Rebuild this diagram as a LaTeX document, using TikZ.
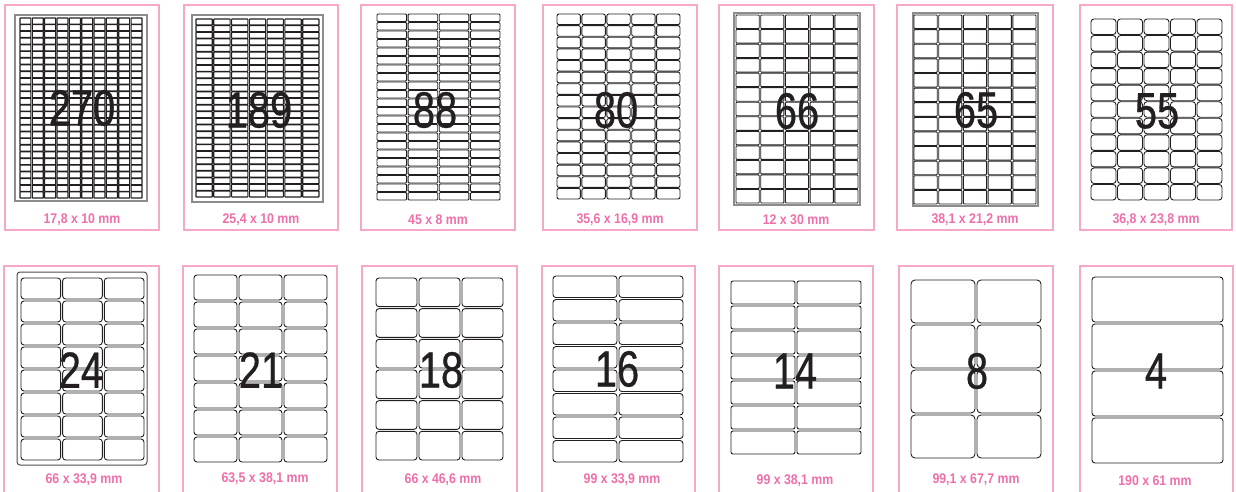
\documentclass[tikz,border=0pt]{standalone}
\usepackage{fontspec}
\newfontfamily\numfont[FakeStretch=0.78,FakeBold=0.6]{Liberation Sans}
\newfontfamily\lblfont[FakeStretch=0.88]{Liberation Sans}
\definecolor{pinkline}{HTML}{F5A8C8}
\definecolor{pinktext}{HTML}{EE6FA9}
\definecolor{sheetgray}{HTML}{8C8C8C}
\definecolor{ink}{HTML}{231F20}
\tikzset{
 card/.style={draw=pinkline, line width=1.2pt},
 sheet/.style={draw=sheetgray, line width=1.4pt},
 lbl/.style={draw=ink, line width=0.9pt},
 bignum/.style={font=\numfont\fontsize{51}{51}\selectfont, text=ink, inner sep=0pt},
 sizetxt/.style={font=\lblfont\bfseries\fontsize{14}{14}\selectfont, text=pinktext, inner sep=0pt},
}
\newcommand\lgrid[9]{%
 \pgfmathsetmacro\lgw{(#3-#1+#7)/#5}%
 \pgfmathsetmacro\lgh{(#4-#2+#8)/#6}%
 \foreach \i in {1,...,#5}{\foreach \j in {1,...,#6}{%
  \draw[lbl, rounded corners=#9pt] ({#1+(\i-1)*\lgw},{#2+(\j-1)*\lgh}) rectangle ++({\lgw-#7},{\lgh-#8});}}}
\begin{document}
\begin{tikzpicture}[x=1pt,y=-1pt]
\useasboundingbox (0,0) rectangle (1236,491);
% ---------- row 1 ----------
\draw[card] (5,5) rectangle (159,230);
\draw[sheet] (15,15) rectangle (147,201);
\begin{scope}[lbl/.append style={line width=1.1pt}]
\lgrid{20}{18}{142}{198}{10}{27}{1.4}{0.6}{0.3}
\end{scope}
\node[bignum] (n270) at (82,108) {270};
\node[sizetxt] (s270) at (82,220) {17,8 x 10 mm};

\draw[card] (184,5) rectangle (338,230);
\draw[sheet] (192,15) rectangle (323,202);
\begin{scope}[lbl/.append style={line width=1.1pt}]
\lgrid{196}{19}{319}{197}{7}{27}{1.5}{0.6}{0.5}
\end{scope}
\node[bignum] (n189) at (259,110) {189};
\node[sizetxt] (s189) at (261,220) {25,4 x 10 mm};

\draw[card] (361,5) rectangle (515,230);
\lgrid{377}{14}{500}{200}{4}{22}{1.5}{1}{1}
\node[bignum] (n88) at (435,110) {88};
\node[sizetxt] (s88) at (438,220) {45 x 8 mm};

\draw[card] (543,5) rectangle (697,230);
\lgrid{557}{14}{680}{199}{5}{16}{1.5}{1}{2}
\node[bignum] (n80) at (616,110) {80};
\node[sizetxt] (s80) at (620,220) {35,6 x 16,9 mm};

\draw[card] (719,5) rectangle (874,230);
\draw[sheet] (734,13) rectangle (860,205);
\lgrid{736}{15}{858}{203}{5}{13}{1.5}{1}{0.8}
\node[bignum] (n66) at (797,111) {66};
\node[sizetxt] (s66) at (796,220) {12 x 30 mm};

\draw[card] (897,5) rectangle (1053,230);
\draw[sheet] (913,13) rectangle (1038,206);
\lgrid{914}{15}{1036}{204}{5}{13}{1.5}{1}{0.8}
\node[bignum] (n65) at (976,110) {65};
\node[sizetxt] (s65) at (975,220) {38,1 x 21,2 mm};

\draw[card] (1080,5) rectangle (1232,230);
\lgrid{1091}{19}{1222}{200}{5}{11}{1.5}{1}{3}
\node[bignum] (n55) at (1157,111) {55};
\node[sizetxt] (s55) at (1156,220) {36,8 x 23,8 mm};
% ---------- row 2 ----------
\draw[card] (4,266) rectangle (159,500);
\draw[draw=ink!80, line width=1pt, rounded corners=3pt] (17,272) rectangle (147,465);
\lgrid{21}{278}{144}{460}{3}{8}{2}{2}{3}
\node[bignum] (n24) at (81,370) {24};
\node[sizetxt] (s24) at (84,480) {66 x 33,9 mm};

\draw[card] (183,266) rectangle (337,500);
\lgrid{194}{275}{327}{462}{3}{7}{2}{2}{3}
\node[bignum] (n21) at (261,370) {21};
\node[sizetxt] (s21) at (265,479) {63,5 x 38,1 mm};

\draw[card] (362,266) rectangle (517,500);
\lgrid{376}{278}{503}{460}{3}{6}{2}{2}{3}
\node[bignum] (n18) at (441,370) {18};
\node[sizetxt] (s18) at (443,480) {66 x 46,6 mm};

\draw[card] (542,266) rectangle (695,500);
\lgrid{553}{276}{683}{462}{2}{8}{2}{2}{3}
\node[bignum] (n16) at (617,369) {16};
\node[sizetxt] (s16) at (622,480) {99 x 33,9 mm};

\draw[card] (719,266) rectangle (873,500);
\lgrid{731}{281}{861}{454}{2}{7}{2}{2}{2}
\node[bignum] (n14) at (795,371) {14};
\node[sizetxt] (s14) at (795,481) {99 x 38,1 mm};

\draw[card] (899,266) rectangle (1053,500);
\lgrid{911}{280}{1041}{458}{2}{4}{2}{2}{4}
\node[bignum] (n8) at (977,371) {8};
\node[sizetxt] (s8) at (976,480) {99,1 x 67,7 mm};

\draw[card] (1080,266) rectangle (1233,500);
\lgrid{1092}{277}{1223}{463}{1}{4}{2}{2}{3}
\node[bignum] (n4) at (1156,371) {4};
\node[sizetxt] (s4) at (1155,481) {190 x 61 mm};
\end{tikzpicture}
\end{document}
